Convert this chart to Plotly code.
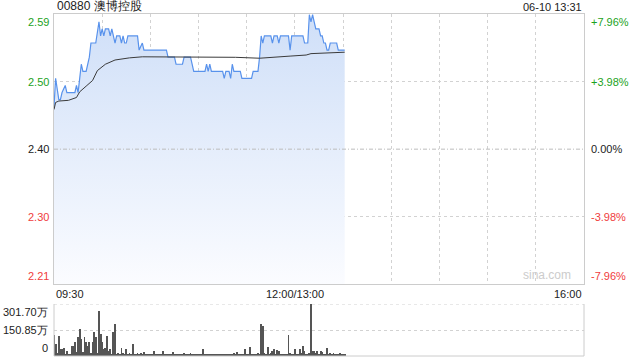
import plotly.graph_objects as go

# ---------------- data ----------------
title_left = "00880 澳博控股"
title_right = "06-10 13:31"
prev_close = 2.40
price_max = 2.591
price_min = 2.209

# minutes since 09:30 (lunch break removed); 150 = 12:00/13:00, 330 = 16:00
price_t = [0, 1, 3, 4, 5, 7, 8, 13, 14, 15, 16, 17, 18, 20, 22, 23, 26, 28, 29, 30, 31, 32,
           34, 35, 36, 37, 38, 39, 41, 42, 43, 44, 45, 46, 52, 53, 55, 56, 70, 71, 75, 76,
           80, 81, 85, 86, 87, 94, 95, 96, 97, 98, 105, 106, 107, 109, 110, 111, 112, 116,
           117, 123, 124, 127, 128, 129, 130, 131, 135, 136, 137, 139, 140, 141, 146, 147,
           148, 155, 156, 158, 159, 160, 161, 162, 163, 165, 166, 167, 168, 169, 170, 171,
           172, 176, 177, 181]
price_v = [2.46, 2.50, 2.47, 2.47, 2.48, 2.49, 2.48, 2.48, 2.49, 2.48, 2.50, 2.52, 2.51, 2.51,
           2.53, 2.55, 2.55, 2.58, 2.56, 2.57, 2.56, 2.57, 2.57, 2.56, 2.57, 2.56, 2.55, 2.56,
           2.56, 2.55, 2.56, 2.55, 2.55, 2.56, 2.56, 2.54, 2.55, 2.54, 2.54, 2.53, 2.53, 2.52,
           2.52, 2.53, 2.53, 2.52, 2.51, 2.51, 2.52, 2.51, 2.52, 2.51, 2.51, 2.50, 2.51, 2.51,
           2.50, 2.52, 2.51, 2.51, 2.50, 2.50, 2.51, 2.51, 2.53, 2.56, 2.55, 2.56, 2.56, 2.55,
           2.56, 2.56, 2.55, 2.56, 2.56, 2.54, 2.56, 2.56, 2.55, 2.55, 2.59, 2.58, 2.59, 2.58,
           2.57, 2.57, 2.56, 2.56, 2.55, 2.55, 2.54, 2.54, 2.55, 2.55, 2.54, 2.54]

avg_t = [0, 1, 3, 9, 14, 16, 20, 24, 27, 32, 38, 47, 55, 90, 113, 128, 145, 147, 157, 160, 181]
avg_v = [2.456, 2.466, 2.468, 2.469, 2.473, 2.481, 2.489, 2.497, 2.511, 2.520, 2.526, 2.529,
         2.5305, 2.5305, 2.5298, 2.5285, 2.5305, 2.5315, 2.533, 2.535, 2.537]

# volume per minute (万股)
volume = [124, 69, 18, 114, 39, 43, 49, 12, 30, 10, 8, 59, 59, 79, 25, 108, 154, 99, 22, 108,
          83, 59, 79, 15, 83, 138, 108, 15, 262, 128, 79, 39, 49, 114, 30, 39, 10, 138, 183, 10,
          16, 8, 45, 20, 12, 39, 10, 16, 12, 69, 10, 14, 20, 8, 18, 10, 24, 12, 8, 10,
          6, 14, 28, 10, 8, 6, 12, 10, 30, 8, 6, 10, 12, 8, 22, 10, 8, 6, 14, 10,
          8, 20, 12, 10, 8, 18, 6, 10, 12, 8, 6, 10, 14, 43, 10, 8, 12, 6, 10, 8,
          14, 10, 6, 8, 10, 12, 8, 6, 10, 14, 8, 12, 20, 10, 22, 8, 12, 10, 14, 43,
          10, 8, 55, 6, 8, 10, 12, 18, 14, 183, 174, 20, 12, 55, 10, 18, 29, 39, 14, 33,
          29, 10, 8, 12, 10, 14, 124, 20, 10, 8, 43, 12, 10, 39, 18, 59, 30, 10, 14, 20,
          301.7, 30, 30, 18, 30, 12, 30, 24, 10, 14, 49, 10, 20, 8, 20, 10, 12, 8, 16, 10,
          8, 12]
vol_t = list(range(len(volume)))
vol_max = 301.70

price_labels = ["2.59", "2.50", "2.40", "2.30", "2.21"]
pct_labels = ["+7.96%", "+3.98%", "0.00%", "-3.98%", "-7.96%"]
vol_labels = ["301.70万", "150.85万", "0"]
time_labels = ["09:30", "12:00/13:00", "16:00"]

# ---------------- styles ----------------
GREEN = "#1ca21c"
RED = "#f03c3c"
BLACK = "#222222"
GRID = "#d2d2d2"
FONT = "Liberation Sans, Arial, sans-serif"

grid_prices = [prev_close * (1 + 0.0398), prev_close * (1 - 0.0398)]
label_prices = [price_max, grid_prices[0], prev_close, grid_prices[1], price_min]
label_colors = [GREEN, GREEN, BLACK, RED, RED]

fig = go.Figure()

fig.add_trace(go.Scatter(
    x=price_t, y=price_v, mode="lines", xaxis="x", yaxis="y",
    line=dict(color="#5892ec", width=1.2),
    fill="tozeroy",
    fillgradient=dict(type="vertical", start=price_min, stop=price_max,
                      colorscale=[[0, "rgba(251,252,255,1)"], [1, "rgba(207,223,248,1)"]]),
    hoverinfo="skip", showlegend=False))

fig.add_trace(go.Scatter(
    x=avg_t, y=avg_v, mode="lines", xaxis="x", yaxis="y",
    line=dict(color="#3a3a3a", width=1), hoverinfo="skip", showlegend=False))

fig.add_trace(go.Bar(
    x=vol_t, y=volume, xaxis="x2", yaxis="y2", width=0.55,
    marker=dict(color="#555555", line=dict(width=0)), showlegend=False, hoverinfo="skip"))

main_bottom = 0.2096
vol_top = 0.152

fig.update_layout(
    width=640, height=360,
    margin=dict(l=54, r=56, t=14, b=4),
    paper_bgcolor="white", plot_bgcolor="white",
    font=dict(family=FONT, size=11, color=BLACK),
    bargap=0,
    xaxis=dict(domain=[0, 1], range=[0, 330], anchor="y",
               tickvals=list(range(30, 330, 30)), showticklabels=False, ticks="",
               showgrid=True, gridcolor=GRID, griddash="dot", gridwidth=1,
               zeroline=False, showline=True, linecolor="#cccccc", linewidth=1, mirror=True),
    yaxis=dict(domain=[main_bottom, 1], range=[price_min, price_max], anchor="x",
               tickvals=grid_prices, showticklabels=False, ticks="",
               showgrid=True, gridcolor=GRID, griddash="dot", gridwidth=1,
               zeroline=False, showline=True, linecolor="#cccccc", linewidth=1, mirror=True),
    xaxis2=dict(domain=[0, 1], range=[0, 330], anchor="y2", showticklabels=False,
                ticks="", showgrid=False, zeroline=False, showline=False),
    yaxis2=dict(domain=[0, vol_top], range=[0, vol_max], anchor="x2",
                tickvals=[vol_max / 2], showticklabels=False, ticks="",
                showgrid=True, gridcolor=GRID, griddash="dot", gridwidth=1,
                zeroline=False, showline=False),
)

shapes = [
    dict(type="line", xref="x domain", yref="y", x0=0, x1=1, y0=prev_close, y1=prev_close,
         line=dict(color="#bdbdbd", width=1, dash="4px,2px,1px,2px")),
    # volume panel borders
    dict(type="line", xref="x2 domain", yref="y2", x0=0, x1=1, y0=vol_max, y1=vol_max,
         line=dict(color=GRID, width=1, dash="dot")),
    dict(type="line", xref="x2 domain", yref="y2 domain", x0=0, x1=0, y0=0, y1=1,
         line=dict(color="#cccccc", width=1)),
    dict(type="line", xref="x2 domain", yref="y2 domain", x0=1, x1=1, y0=0, y1=1,
         line=dict(color="#cccccc", width=1)),
    dict(type="line", xref="x2 domain", yref="y2 domain", x0=0, x1=1, y0=0, y1=0,
         line=dict(color="#cccccc", width=1)),
]
fig.update_layout(shapes=shapes)

ann = []
# header
ann.append(dict(text=title_left, xref="paper", yref="paper", x=0, y=1, xanchor="left",
                yanchor="bottom", xshift=1, yshift=-1, showarrow=False,
                font=dict(size=12, color=BLACK)))
ann.append(dict(text=title_right, xref="paper", yref="paper", x=1, y=1, xanchor="right",
                yanchor="bottom", yshift=-1, showarrow=False, font=dict(size=11, color=BLACK)))
# price / pct labels
for i, (p, lab, pl, col) in enumerate(zip(label_prices, price_labels, pct_labels, label_colors)):
    ya = "middle"
    if i == 0:
        ya = "top"
    elif i == len(label_prices) - 1:
        ya = "bottom"
    ann.append(dict(text=lab, xref="paper", yref="y", x=0, y=p, xanchor="right", yanchor=ya,
                    xshift=-3, showarrow=False, font=dict(size=11, color=col)))
    ann.append(dict(text=pl, xref="paper", yref="y", x=1, y=p, xanchor="left", yanchor=ya,
                    xshift=5, showarrow=False, font=dict(size=11, color=col)))
# volume labels
for v, lab, ya in zip([vol_max, vol_max / 2, 0], vol_labels, ["top", "middle", "bottom"]):
    ann.append(dict(text=lab, xref="paper", yref="y2", x=0, y=v, xanchor="right", yanchor=ya,
                    xshift=-4, showarrow=False, font=dict(size=11, color=BLACK)))
# time labels
for xv, lab, xa in zip([0, 150, 330], time_labels, ["left", "center", "right"]):
    ann.append(dict(text=lab, xref="x", yref="y", x=xv, y=price_min, xanchor=xa,
                    yanchor="top", yshift=-2, showarrow=False, font=dict(size=11, color=BLACK)))
# watermark
ann.append(dict(text="sina.com", xref="paper", yref="y", x=1, y=price_min, xanchor="right",
                yanchor="bottom", xshift=-11, yshift=0, showarrow=False,
                font=dict(size=12, color="#cccccc")))
fig.update_layout(annotations=ann)

fig.write_html("out.html")
